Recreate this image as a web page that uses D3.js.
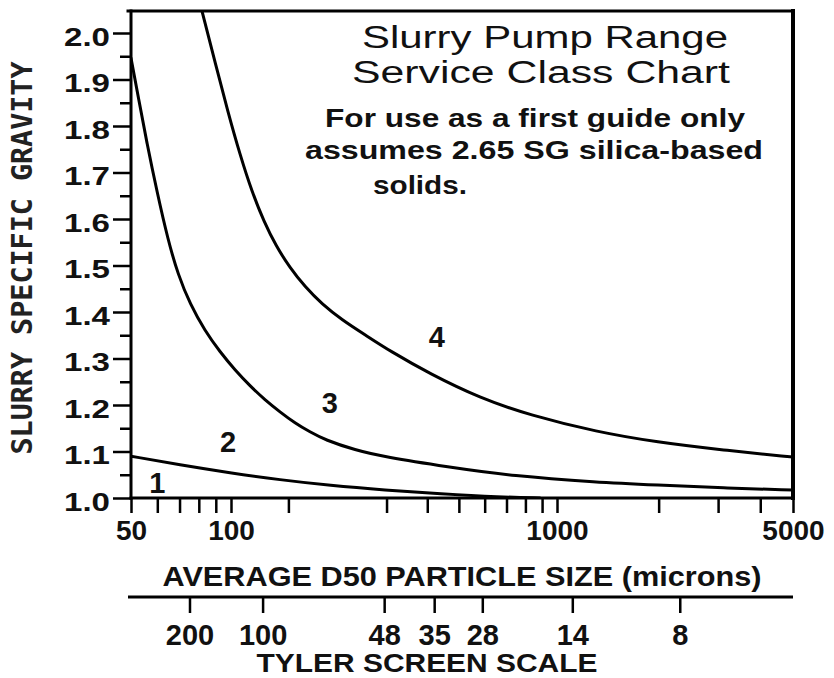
<!DOCTYPE html>
<html>
<head>
<meta charset="utf-8">
<script src="https://cdn.jsdelivr.net/npm/d3@7"></script>
<style>
  html, body { margin: 0; padding: 0; background: #fff; }
  svg { display: block; }
</style>
</head>
<body>
<svg id="chart" width="834" height="678"></svg>
<script>
// ---------------- data ----------------
// Boundary curves: particle size (microns) vs slurry specific gravity
const curve12Size = [50, 70.2, 99.3, 141.4, 201, 297, 438, 669, 887];
const curve12SG   = [1.090, 1.071, 1.054, 1.039, 1.027, 1.017, 1.009, 1.002, 1.000];

const curve23Size = [50, 52.5, 55.9, 59.9, 64.6, 69.3, 75.3, 83.5, 92.7, 102.9, 114.4, 127.1, 141.4, 157.2, 174.7, 194.2, 240.1, 297, 460, 733, 1314, 1977, 3100, 5000];
const curve23SG   = [1.946, 1.865, 1.761, 1.658, 1.555, 1.480, 1.417, 1.359, 1.314, 1.275, 1.241, 1.211, 1.185, 1.161, 1.142, 1.125, 1.103, 1.088, 1.067, 1.047, 1.034, 1.028, 1.0215, 1.017];

const curve34Size = [81.8, 89.5, 97.9, 106.6, 116.0, 126.3, 137.4, 151.7, 168.7, 190.2, 219, 257.7, 307.4, 408, 580, 826, 1314, 1977, 3100, 5000];
const curve34SG   = [2.047, 1.938, 1.830, 1.738, 1.658, 1.594, 1.542, 1.495, 1.454, 1.417, 1.383, 1.351, 1.316, 1.267, 1.215, 1.178, 1.142, 1.120, 1.103, 1.088];

// Service class labels
const classNames = ["1", "2", "3", "4"];
const classSize  = [60, 98, 201, 428];
const classSG    = [1.011, 1.099, 1.183, 1.325];

// Axis ticks
const yMajorTicks = [1.0, 1.1, 1.2, 1.3, 1.4, 1.5, 1.6, 1.7, 1.8, 1.9, 2.0];
const yMinorTicks = [1.05, 1.15, 1.25, 1.35, 1.45, 1.55, 1.65, 1.75, 1.85, 1.95];
const xTicks      = [50, 60, 70, 80, 90, 100, 150, 300, 400, 500, 600, 700, 800, 900, 1000, 2000, 3000, 4000, 5000];
const xTickLabels = [50, 100, 1000, 5000];

// Tyler screen scale (mesh) and equivalent micron position
const tylerMesh    = ["200", "100", "48", "35", "28", "14", "8"];
const tylerMicrons = [75, 125, 295, 420, 590, 1110, 2310];

// Texts
const titleLines = ["Slurry Pump Range", "Service Class Chart"];
const noteLines  = ["For use as a first guide only", "assumes 2.65 SG silica-based", "solids."];
const xTitle     = "AVERAGE D50 PARTICLE SIZE (microns)";
const yTitle     = "SLURRY SPECIFIC GRAVITY";
const tylerTitle = "TYLER SCREEN SCALE";

// ---------------- layout ----------------
const svg = d3.select("#chart");
const L = 131, R = 793, T = 11, B = 498;
const sans = "'Liberation Sans', Arial, Helvetica, sans-serif";

const x = d3.scaleLog().domain([50, 100, 1000, 5000]).range([131, 231, 557, 793]);
const y = d3.scaleLinear().domain([1, 2]).range([498, 33]);

svg.append("rect").attr("width", 834).attr("height", 678).attr("fill", "#fff");

// clip
svg.append("clipPath").attr("id", "plotclip")
  .append("rect").attr("x", L).attr("y", T).attr("width", R - L).attr("height", B - T);

// curves
const line = d3.line().x(d => x(d[0])).y(d => y(d[1])).curve(d3.curveBasis);
const curves = [
  d3.zip(curve12Size, curve12SG),
  d3.zip(curve23Size, curve23SG),
  d3.zip(curve34Size, curve34SG)
];
svg.append("g").attr("clip-path", "url(#plotclip)")
  .selectAll("path").data(curves).join("path")
  .attr("d", line)
  .attr("fill", "none").attr("stroke", "#000").attr("stroke-width", 3)
  .attr("stroke-linejoin", "round").attr("stroke-linecap", "round");

// Y axis (major + minor)
const yAxisMajor = svg.append("g").attr("transform", `translate(${L},0)`)
  .call(d3.axisLeft(y).tickValues(yMajorTicks).tickSize(18).tickPadding(3).tickFormat(d3.format(".1f")));
const yAxisMinor = svg.append("g").attr("transform", `translate(${L},0)`)
  .call(d3.axisLeft(y).tickValues(yMinorTicks).tickSize(11).tickFormat(""));
[yAxisMajor, yAxisMinor].forEach(g => {
  g.select(".domain").remove();
  g.selectAll(".tick line").attr("stroke", "#000").attr("stroke-width", 2.5);
});
yAxisMajor.selectAll(".tick text")
  .attr("font-family", sans).attr("font-weight", "bold").attr("font-size", 25)
  .attr("fill", "#111").attr("dy", "0.48em")
  .attr("textLength", 46).attr("lengthAdjust", "spacingAndGlyphs");

// X axis
const xAxis = svg.append("g").attr("transform", `translate(0,${B})`)
  .call(d3.axisBottom(x).tickValues(xTicks).tickSize(15).tickSizeOuter(0)
    .tickFormat(d => xTickLabels.includes(d) ? String(d) : ""));
xAxis.select(".domain").remove();
xAxis.selectAll(".tick line").attr("stroke", "#000").attr("stroke-width", 2.5);
xAxis.selectAll(".tick text")
  .attr("font-family", sans).attr("font-weight", "bold").attr("font-size", 28)
  .attr("fill", "#111").attr("y", 42).attr("dy", 0);

// frame
const frame = svg.append("g").attr("stroke", "#000").attr("stroke-linecap", "square");
frame.append("line").attr("x1", 128).attr("x2", R).attr("y1", T).attr("y2", T).attr("stroke-width", 3);
frame.append("line").attr("x1", R).attr("x2", R).attr("y1", T).attr("y2", B).attr("stroke-width", 4);
frame.append("line").attr("x1", L).attr("x2", L).attr("y1", T).attr("y2", B).attr("stroke-width", 3);
frame.append("line").attr("x1", L).attr("x2", R).attr("y1", B).attr("y2", B).attr("stroke-width", 3);

// class labels
svg.append("g").selectAll("text").data(classNames).join("text")
  .attr("x", (d, i) => x(classSize[i])).attr("y", (d, i) => y(classSG[i]))
  .attr("text-anchor", "middle")
  .attr("font-family", sans).attr("font-weight", "bold").attr("font-size", 29)
  .attr("fill", "#111")
  .text(d => d);

// title
const titleCfg = [ {x: 545, y: 48, w: 366}, {x: 541, y: 83, w: 378} ];
svg.append("g").selectAll("text").data(titleLines).join("text")
  .attr("x", (d, i) => titleCfg[i].x).attr("y", (d, i) => titleCfg[i].y)
  .attr("text-anchor", "middle")
  .attr("font-family", sans).attr("font-size", 31).attr("fill", "#111")
  .attr("textLength", (d, i) => titleCfg[i].w).attr("lengthAdjust", "spacingAndGlyphs")
  .text(d => d);

const noteCfg = [ {x: 325, y: 127, w: 420}, {x: 305, y: 159, w: 458}, {x: 373, y: 194, w: 94} ];
svg.append("g").selectAll("text").data(noteLines).join("text")
  .attr("x", (d, i) => noteCfg[i].x).attr("y", (d, i) => noteCfg[i].y)
  .attr("font-family", sans).attr("font-weight", "bold").attr("font-size", 26).attr("fill", "#111")
  .attr("textLength", (d, i) => noteCfg[i].w).attr("lengthAdjust", "spacingAndGlyphs")
  .text(d => d);

// x title
svg.append("text").attr("x", 462).attr("y", 586).attr("text-anchor", "middle")
  .attr("font-family", sans).attr("font-weight", "bold").attr("font-size", 28).attr("fill", "#111")
  .attr("textLength", 599).attr("lengthAdjust", "spacingAndGlyphs")
  .text(xTitle);

// y title
svg.append("text").attr("transform", "translate(32,258) rotate(-90)")
  .attr("text-anchor", "middle")
  .attr("font-family", "'DejaVu Sans Mono', monospace").attr("font-weight", "bold").attr("font-size", 28)
  .attr("fill", "#222")
  .attr("textLength", 393).attr("lengthAdjust", "spacingAndGlyphs")
  .text(yTitle);

// Tyler screen scale axis
const tyler = svg.append("g").attr("transform", "translate(0,597)")
  .call(d3.axisBottom(x).tickValues(tylerMicrons).tickSize(16).tickSizeOuter(0)
    .tickFormat((d, i) => tylerMesh[i]));
tyler.select(".domain").remove();
tyler.selectAll(".tick line").attr("stroke", "#000").attr("stroke-width", 2.5);
tyler.selectAll(".tick text")
  .attr("font-family", sans).attr("font-weight", "bold").attr("font-size", 29)
  .attr("fill", "#111").attr("y", 48).attr("dy", 0);
svg.append("line").attr("x1", 128).attr("x2", R).attr("y1", 597).attr("y2", 597)
  .attr("stroke", "#000").attr("stroke-width", 3);

svg.append("text").attr("x", 427).attr("y", 672).attr("text-anchor", "middle")
  .attr("font-family", sans).attr("font-weight", "bold").attr("font-size", 25).attr("fill", "#111")
  .attr("textLength", 341).attr("lengthAdjust", "spacingAndGlyphs")
  .text(tylerTitle);
</script>
</body>
</html>
